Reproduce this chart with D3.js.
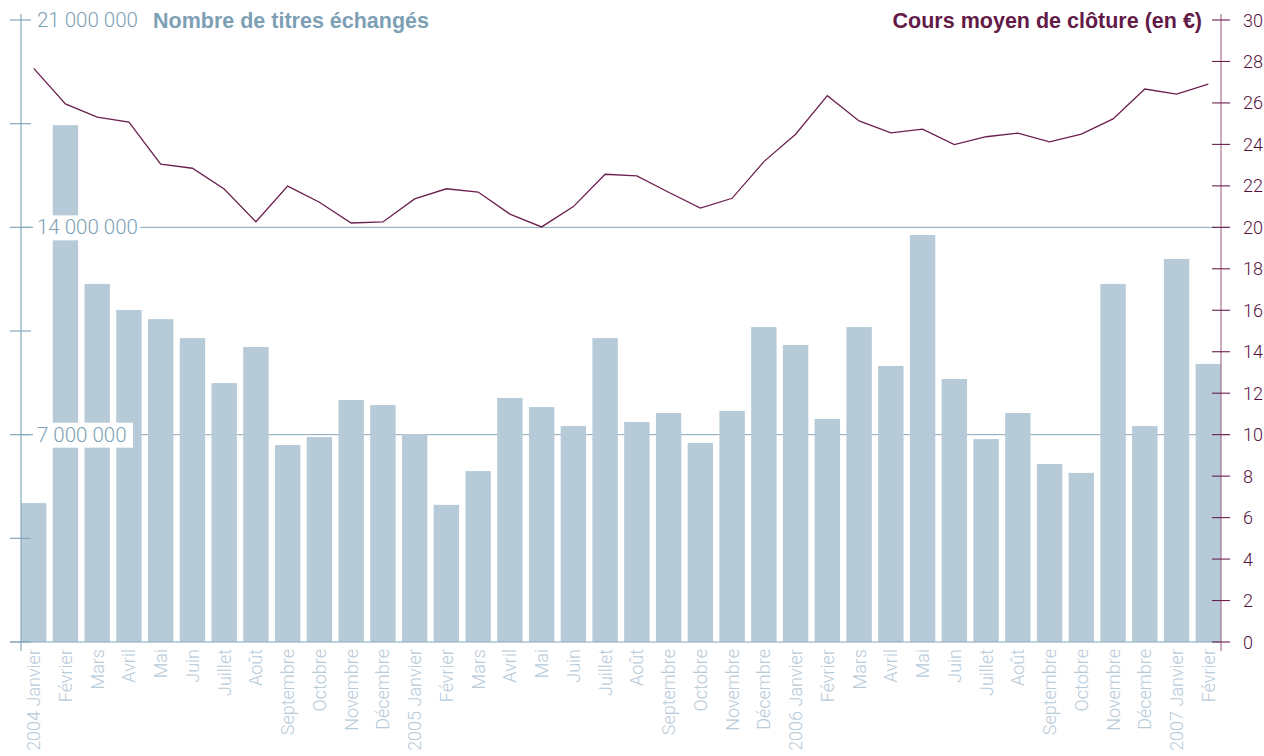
<!DOCTYPE html>
<html>
<head>
<meta charset="utf-8">
<script src="https://cdn.jsdelivr.net/npm/d3@7"></script>
<style>
  html, body { margin: 0; padding: 0; background: #ffffff; }
  svg { display: block; }
</style>
</head>
<body>
<svg id="chart" width="1264" height="756"></svg>
<script>
// Months (Jan 2004 – Feb 2007)
const months = [
  "2004 Janvier","Février","Mars","Avril","Mai","Juin","Juillet","Août","Septembre","Octobre","Novembre","Décembre",
  "2005 Janvier","Février","Mars","Avril","Mai","Juin","Juillet","Août","Septembre","Octobre","Novembre","Décembre",
  "2006 Janvier","Février","Mars","Avril","Mai","Juin","Juillet","Août","Septembre","Octobre","Novembre","Décembre",
  "2007 Janvier","Février"
];

// Number of shares traded per month
const volumes = [
  4690000, 17450000, 12090000, 11210000, 10900000, 10260000, 8740000, 9960000, 6650000, 6920000, 8170000, 8000000,
  7020000, 4630000, 5770000, 8240000, 7930000, 7290000, 10260000, 7430000, 7730000, 6720000, 7800000, 10630000,
  10030000, 7530000, 10630000, 9320000, 13740000, 8880000, 6850000, 7730000, 6010000, 5710000, 12090000, 7290000,
  12930000, 9390000
];

// Average closing price (EUR)
const prices = [
  27.67, 25.95, 25.32, 25.08, 23.05, 22.85, 21.85, 20.27, 21.99, 21.21, 20.21, 20.26,
  21.37, 21.86, 21.70, 20.64, 20.02, 21.00, 22.56, 22.48, 21.69, 20.93, 21.40, 23.17,
  24.49, 26.35, 25.13, 24.56, 24.74, 23.99, 24.37, 24.54, 24.12, 24.50, 25.23, 26.67,
  26.43, 26.91
];

// Axis ticks
const volumeTicks = [0, 3500000, 7000000, 10500000, 14000000, 17500000, 21000000];
const volumeLabelled = [7000000, 14000000, 21000000];
const priceTicks = [0, 2, 4, 6, 8, 10, 12, 14, 16, 18, 20, 22, 24, 26, 28, 30];

const blue = "#86a7bc";
const barColor = "#b6cad7";
const labelBlue = "#b7cad8";
const purple = "#6b1f4e";
const purpleAxis = "#a07592";

const plotLeft = 21, plotRight = 1221, plotTop = 20, plotBottom = 642;

const svg = d3.select("#chart");

const x = d3.scaleBand().domain(d3.range(months.length)).range([plotLeft, plotRight])
  .paddingInner(0.2).paddingOuter(0);
const yVol = d3.scaleLinear().domain([0, 21000000]).range([plotBottom, plotTop]);
const yPrice = d3.scaleLinear().domain([0, 30]).range([plotBottom, plotTop]);

const fmt = v => d3.format(",")(v).replace(/,/g, " ");

// Gridlines at the labelled volume levels
svg.append("g").selectAll("line")
  .data([7000000, 14000000])
  .join("line")
  .attr("x1", plotLeft).attr("x2", plotRight + 8)
  .attr("y1", d => yVol(d)).attr("y2", d => yVol(d))
  .attr("stroke", blue).attr("stroke-width", 1);

// Bars
svg.append("g").selectAll("rect")
  .data(volumes)
  .join("rect")
  .attr("x", (d, i) => x(i))
  .attr("width", x.bandwidth())
  .attr("y", d => yVol(d))
  .attr("height", d => yVol(0) - yVol(d))
  .attr("fill", barColor);

// Left axis
const leftAxis = svg.append("g");
leftAxis.append("line")
  .attr("x1", plotLeft).attr("x2", plotLeft)
  .attr("y1", plotTop - 6).attr("y2", plotBottom + 9)
  .attr("stroke", blue).attr("stroke-width", 1.2);
leftAxis.selectAll("line.tick")
  .data(volumeTicks)
  .join("line")
  .attr("class", "tick")
  .attr("x1", plotLeft - 11).attr("x2", plotLeft + 10)
  .attr("y1", d => yVol(d)).attr("y2", d => yVol(d))
  .attr("stroke", blue).attr("stroke-width", 1.2);

// Labelled volume ticks, with white backing
const volLab = leftAxis.selectAll("g.lab")
  .data(volumeLabelled)
  .join("g").attr("class", "lab")
  .attr("transform", d => `translate(37,${yVol(d)})`);
volLab.filter(d => d !== 21000000).append("rect")
  .attr("x", -4).attr("y", -12).attr("width", d => d === 14000000 ? 107 : 100).attr("height", 25)
  .attr("fill", "#ffffff");
volLab.append("text")
  .attr("x", 0).attr("y", 7)
  .attr("font-family", "Roboto, 'Liberation Sans', sans-serif")
  .attr("font-weight", 300)
  .attr("font-size", 20.5)
  .attr("fill", "#7d9fb5")
  .text(d => fmt(d));

// Bottom axis line
svg.append("line")
  .attr("x1", plotLeft - 11).attr("x2", plotRight)
  .attr("y1", plotBottom).attr("y2", plotBottom)
  .attr("stroke", blue).attr("stroke-width", 1.2);

// Month labels
svg.append("g").selectAll("text")
  .data(months)
  .join("text")
  .attr("transform", (d, i) => `translate(${x(i) + x.bandwidth() / 2 + 6.5},${plotBottom + 7}) rotate(-90)`)
  .attr("text-anchor", "end")
  .attr("font-family", "Roboto, 'Liberation Sans', sans-serif")
  .attr("font-weight", 300)
  .attr("font-size", 18)
  .attr("fill", labelBlue)
  .text(d => d);

// Right axis
const rightAxis = svg.append("g");
rightAxis.append("line")
  .attr("x1", plotRight).attr("x2", plotRight)
  .attr("y1", plotTop - 6).attr("y2", plotBottom + 9)
  .attr("stroke", purpleAxis).attr("stroke-width", 1.2);
rightAxis.selectAll("line.tick")
  .data(priceTicks)
  .join("line")
  .attr("class", "tick")
  .attr("x1", plotRight - 9).attr("x2", plotRight + 9)
  .attr("y1", d => yPrice(d)).attr("y2", d => yPrice(d))
  .attr("stroke", purple).attr("stroke-width", 1.1);
rightAxis.selectAll("text")
  .data(priceTicks)
  .join("text")
  .attr("x", plotRight + 22)
  .attr("y", d => yPrice(d) + 6.5)
  .attr("font-family", "Roboto, 'Liberation Sans', sans-serif")
  .attr("font-weight", 300)
  .attr("font-size", 18)
  .attr("fill", "#55123e")
  .text(d => d);

// Price line
const line = d3.line()
  .x((d, i) => x(i) + x.bandwidth() / 2)
  .y(d => yPrice(d));
svg.append("path")
  .datum(prices)
  .attr("d", line)
  .attr("fill", "none")
  .attr("stroke", purple)
  .attr("stroke-width", 1.3)
  .attr("stroke-linejoin", "miter");

// Titles
svg.append("text")
  .attr("x", 153).attr("y", yVol(21000000) + 7.5)
  .attr("font-family", "'Liberation Sans', Arial, sans-serif")
  .attr("font-weight", "bold")
  .attr("font-size", 21.5)
  .attr("fill", "#7d9fb5")
  .text("Nombre de titres échangés");

svg.append("text")
  .attr("x", 1202).attr("y", yPrice(30) + 7.5)
  .attr("text-anchor", "end")
  .attr("font-family", "'Liberation Sans', Arial, sans-serif")
  .attr("font-weight", "bold")
  .attr("font-size", 21.5)
  .attr("fill", "#621a47")
  .text("Cours moyen de clôture (en €)");
</script>
</body>
</html>
